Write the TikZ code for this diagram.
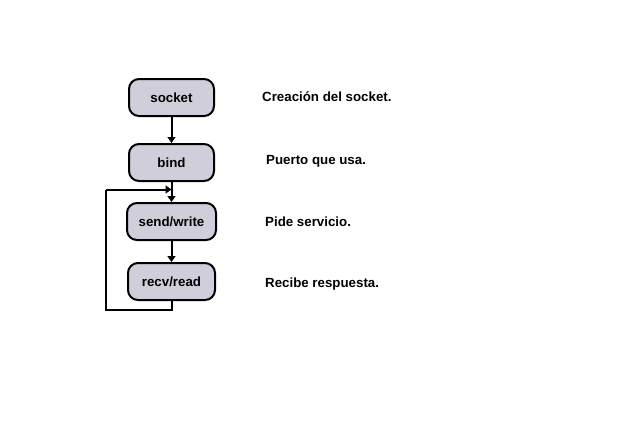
\documentclass[tikz,border=0pt]{standalone}
\usepackage{fontspec}
\setmainfont{Liberation Sans}
\usetikzlibrary{arrows.meta}
\definecolor{boxfill}{RGB}{208,206,218}
\begin{document}
\begin{tikzpicture}[x=1pt,y=1pt,
  stepbox/.style={draw=black,line width=2pt,fill=boxfill,rounded corners=10pt,
    minimum width=85pt,minimum height=37pt,inner sep=0pt,font=\bfseries\fontsize{13.3}{15}\selectfont},
  lbl/.style={anchor=west,inner sep=0pt,font=\bfseries\fontsize{13.3}{15}\selectfont},
  conn/.style={line width=2pt,-{Triangle[length=6pt,width=8pt]}},
  line/.style={line width=2pt}]
\useasboundingbox (0,0) rectangle (639,-440);
\node[stepbox] (s1) at (171.5,-97.5) {socket};
\node[stepbox] (s2) at (171.5,-162.5) {bind};
\node[stepbox,minimum width=89pt] (s3) at (171.5,-221.5) {send/write};
\node[stepbox,minimum width=87pt] (s4) at (171.5,-281.5) {recv/read};
\node[lbl] (t1) at (262,-97) {Creación del socket.};
\node[lbl] (t2) at (266,-161) {Puerto que usa.};
\node[lbl] (t3) at (265,-222) {Pide servicio.};
\node[lbl] (t4) at (265,-284) {Recibe respuesta.};
\coordinate (j) at (171.5,-189.5);
\coordinate (bl) at (106,-310);
\coordinate (tl) at (106,-189.5);
\draw[conn] (s1) -- (s2);
\draw[conn] (s2) -- (s3);
\draw[conn] (s3) -- (s4);
\draw[line] (s4.south) |- (bl) -- (tl);
\draw[conn] (tl) -- (j);
\end{tikzpicture}
\end{document}
